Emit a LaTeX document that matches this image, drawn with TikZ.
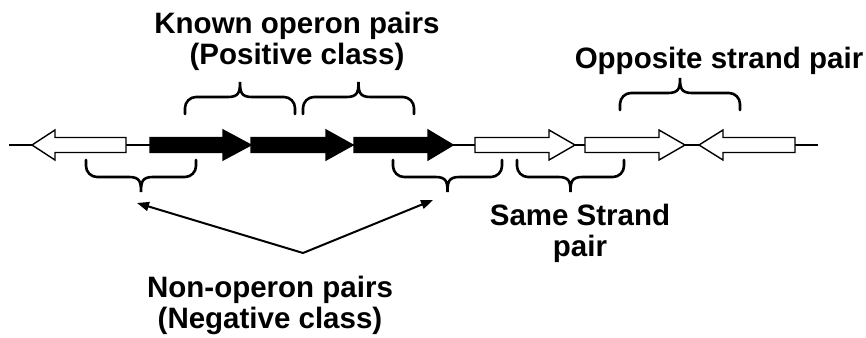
\documentclass[tikz,border=0pt]{standalone}
\usepackage{fontspec}
\setmainfont{Liberation Sans}
\usetikzlibrary{arrows.meta}

% gene drawn as a block arrow on the chromosome line (y = 145)
% #1 shaft end, #2 head base, #3 tip, #4 fill colour
\newcommand{\genearrow}[4]{%
  \draw[genestyle, fill=#4] (#1,137.5) -- (#2,137.5) -- (#2,130) -- (#3,145)
    -- (#2,160) -- (#2,152.5) -- (#1,152.5) -- cycle;}

% curly brace with rounded ends: #1 x left, #2 x right, #3 y of the ends,
% #4 direction (-1 opens downward with the tip up, +1 tip down)
\newcommand{\curlybrace}[4]{%
  \draw[bracestyle] (#1,#3) -- (#1,{#3+#4*6})
    .. controls (#1,{#3+#4*12}) and ({#1+5},{#3+#4*17}) .. ({#1+11},{#3+#4*17})
    -- ({(#1+#2)/2-12},{#3+#4*17})
    .. controls ({(#1+#2)/2-1},{#3+#4*17}) and ({(#1+#2)/2},{#3+#4*22}) .. ({(#1+#2)/2},{#3+#4*32})
    .. controls ({(#1+#2)/2},{#3+#4*22}) and ({(#1+#2)/2+1},{#3+#4*17}) .. ({(#1+#2)/2+12},{#3+#4*17})
    -- ({#2-11},{#3+#4*17})
    .. controls ({#2-5},{#3+#4*17}) and (#2,{#3+#4*12}) .. (#2,{#3+#4*6}) -- (#2,#3);}

\tikzset{
  genestyle/.style={draw=black, line width=1.4pt, line join=miter},
  bracestyle/.style={draw=black, line width=2.6pt, line cap=round},
  chromosome/.style={draw=black, line width=2pt},
  label/.style={font=\fontsize{29.5}{30.5}\selectfont\bfseries, align=center, inner sep=0pt},
  pointer/.style={draw=black, line width=2pt, -{Stealth[length=12pt, width=9pt, inset=0pt]}}
}

\begin{document}
\begin{tikzpicture}[x=1pt, y=-1pt]
  \useasboundingbox (0,0) rectangle (866,337);

  % chromosome
  \draw[chromosome] (9,145) -- (818,145);

  % genes
  \genearrow{126}{55}{32}{white}
  \genearrow{150}{223}{251}{black}
  \genearrow{251}{326}{353}{black}
  \genearrow{354}{428}{453}{black}
  \genearrow{475}{549}{575}{white}
  \genearrow{585}{659}{685}{white}
  \genearrow{795}{723}{699}{white}

  % braces above: operon pairs and the opposite strand pair
  \curlybrace{185}{295}{114}{-1}
  \curlybrace{303}{414}{114}{-1}
  \curlybrace{620}{740}{110}{-1}

  % braces below: non-operon pairs and the same strand pair
  \curlybrace{86}{196}{160}{1}
  \curlybrace{393}{502}{160}{1}
  \curlybrace{517}{624}{160}{1}

  % labels
  \node[label, anchor=north] (known) at (297,12) {Known operon pairs\\(Positive class)};
  \node[label, anchor=base] (opp) at (719,68) {Opposite strand pair};
  \node[label, anchor=north] (same) at (580,204) {Same Strand\\pair};
  \node[label, anchor=north] (nonop) at (270,276) {Non-operon pairs\\(Negative class)};

  % pointers from the negative-class label to the non-operon braces
  \coordinate (apex) at (303,253);
  \coordinate (negL) at (137,203);
  \coordinate (negR) at (433,200);
  \draw[pointer] (apex) -- (negL);
  \draw[pointer] (apex) -- (negR);
\end{tikzpicture}
\end{document}
